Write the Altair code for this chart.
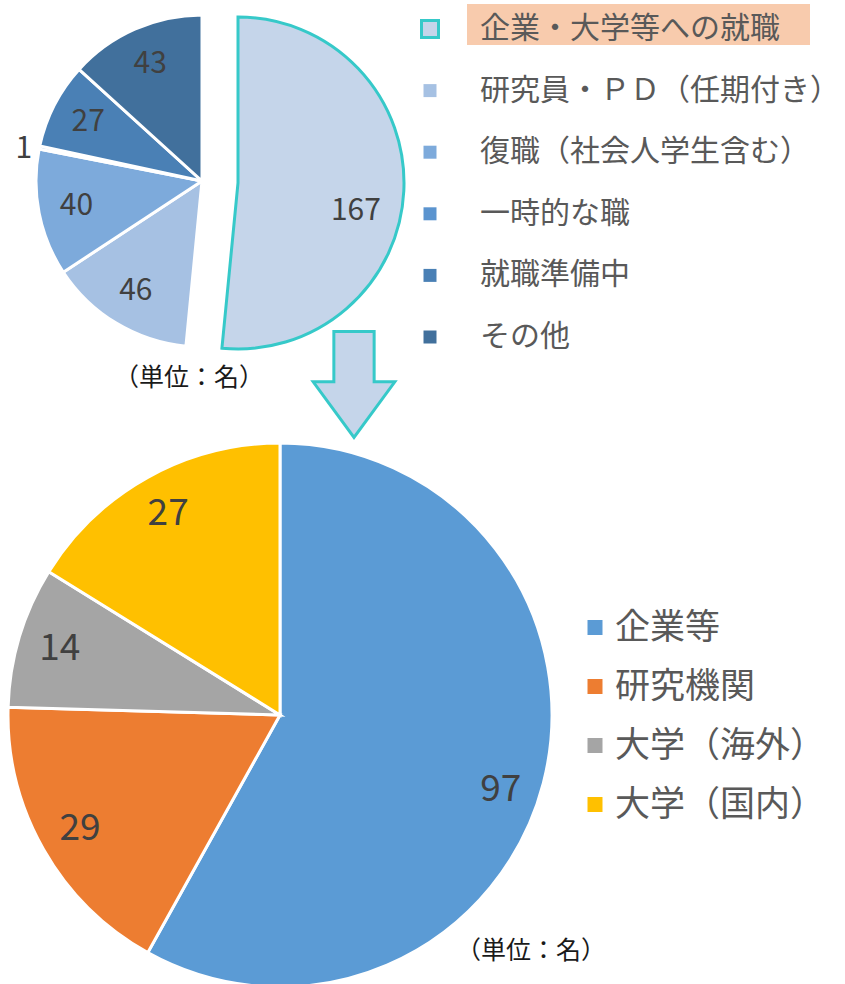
import altair as alt
import pandas as pd

FONT = "Noto Sans CJK JP"

# ---- data ----
top_cats = ["企業・大学等への就職", "研究員・ＰＤ（任期付き）", "復職（社会人学生含む）",
            "一時的な職", "就職準備中", "その他"]
top_vals = [167, 46, 40, 1, 27, 43]
top_colors = ["#C5D5EA", "#A6C1E3", "#7DAADB", "#5B94CF", "#4A80B5", "#41709C"]

bot_cats = ["企業等", "研究機関", "大学（海外）", "大学（国内）"]
bot_vals = [97, 29, 14, 27]
bot_colors = ["#5B9BD5", "#ED7D31", "#A5A5A5", "#FFC000"]

unit_label = "（単位：名）"

top_df = pd.DataFrame({"cat": top_cats, "v": top_vals, "i": list(range(len(top_cats)))})
bot_df = pd.DataFrame({"cat": bot_cats, "v": bot_vals, "i": list(range(len(bot_cats)))})
one_df = pd.DataFrame({"t": [unit_label]})

TEAL = "#36C9C9"
LABEL = "#404040"
LEGTXT = "#595959"

# ---- top pie ----
top_base = alt.Chart(top_df).encode(
    theta=alt.Theta("v:Q", stack=True),
    order=alt.Order("i:Q"),
)
top_color = alt.Color("cat:N", scale=alt.Scale(domain=top_cats, range=top_colors), legend=None)

top_rest = top_base.mark_arc(radius=166, stroke="white", strokeWidth=3).encode(
    color=top_color,
    x=alt.value(202), y=alt.value(181),
    opacity=alt.condition("datum.i == 0", alt.value(0), alt.value(1)),
)
top_expl = top_base.mark_arc(radius=166, stroke=TEAL, strokeWidth=3).encode(
    color=top_color,
    x=alt.value(238), y=alt.value(183),
    opacity=alt.condition("datum.i == 0", alt.value(1), alt.value(0)),
)
top_lab = top_base.mark_text(radius=128, font=FONT, fontSize=30).encode(
    text="v:Q", color=alt.value(LABEL),
    x=alt.value(202), y=alt.value(181),
    opacity=alt.condition("datum.i == 0 || datum.i == 3", alt.value(0), alt.value(1)),
)
top_lab_one = top_base.mark_text(radius=182, dy=5, font=FONT, fontSize=30).encode(
    text="v:Q", color=alt.value(LABEL),
    x=alt.value(202), y=alt.value(181),
    opacity=alt.condition("datum.i == 3", alt.value(1), alt.value(0)),
)
top_lab_big = top_base.mark_text(radius=118, dy=22, font=FONT, fontSize=30).encode(
    text="v:Q", color=alt.value(LABEL),
    x=alt.value(238), y=alt.value(183),
    opacity=alt.condition("datum.i == 0", alt.value(1), alt.value(0)),
)

# ---- top legend ----
top_y = alt.Y("cat:N", scale=alt.Scale(type="point", domain=top_cats, range=[29, 337], padding=0), axis=None)
highlight = alt.Chart(one_df).mark_rect(color="#F8CBAD").encode(
    x=alt.value(467), x2=alt.value(810), y=alt.value(4), y2=alt.value(45)
)
top_leg_sq = alt.Chart(top_df).mark_square(size=169, filled=True).encode(
    x=alt.value(430), y=top_y, color=top_color,
    opacity=alt.condition("datum.i == 0", alt.value(0), alt.value(1)),
)
top_leg_sq0 = alt.Chart(top_df).mark_square(size=289, filled=True, stroke=TEAL, strokeWidth=3).encode(
    x=alt.value(430), y=top_y, color=top_color,
    opacity=alt.condition("datum.i == 0", alt.value(1), alt.value(0)),
)
top_leg_txt = alt.Chart(top_df).mark_text(align="left", baseline="middle", font=FONT,
                                          fontSize=30, color=LEGTXT).encode(
    x=alt.value(480), y=top_y, text="cat:N",
)

unit_top = alt.Chart(one_df).mark_text(font=FONT, fontSize=25, color="#1A1A1A").encode(
    text="t:N", x=alt.value(189), y=alt.value(378)
)

# ---- arrow ----
arrow_path = "M -0.38 -1 L 0.38 -1 L 0.38 -0.05 L 0.77 -0.05 L 0 1 L -0.77 -0.05 L -0.38 -0.05 Z"
arrow = alt.Chart(one_df).mark_point(shape=arrow_path, size=106 * 106, filled=True,
                                     fill="#C5D5EA", stroke=TEAL, strokeWidth=3, opacity=1).encode(
    x=alt.value(354), y=alt.value(384.5)
)

# ---- bottom pie ----
bot_base = alt.Chart(bot_df).encode(
    theta=alt.Theta("v:Q", stack=True),
    order=alt.Order("i:Q"),
)
bot_color = alt.Color("cat:N", scale=alt.Scale(domain=bot_cats, range=bot_colors), legend=None)
bot_arc = bot_base.mark_arc(radius=272, stroke="white", strokeWidth=3).encode(
    color=bot_color, x=alt.value(280), y=alt.value(715)
)
bot_lab = bot_base.mark_text(radius=230, font=FONT, fontSize=37).encode(
    text="v:Q", color=alt.value(LABEL), x=alt.value(280), y=alt.value(715),
    opacity=alt.condition("datum.i == 0", alt.value(0), alt.value(1)),
)
bot_lab0 = bot_base.mark_text(radius=228, dy=18, font=FONT, fontSize=37).encode(
    text="v:Q", color=alt.value(LABEL), x=alt.value(280), y=alt.value(715),
    opacity=alt.condition("datum.i == 0", alt.value(1), alt.value(0)),
)

# ---- bottom legend ----
bot_y = alt.Y("cat:N", scale=alt.Scale(type="point", domain=bot_cats, range=[627.5, 804.5], padding=0), axis=None)
bot_leg_sq = alt.Chart(bot_df).mark_square(size=225, filled=True, opacity=1).encode(
    x=alt.value(595), y=bot_y, color=bot_color
)
bot_leg_txt = alt.Chart(bot_df).mark_text(align="left", baseline="middle", font=FONT,
                                          fontSize=35, color=LEGTXT).encode(
    x=alt.value(615), y=bot_y, text="cat:N"
)
unit_bot = alt.Chart(one_df).mark_text(font=FONT, fontSize=25, color="#1A1A1A").encode(
    text="t:N", x=alt.value(531), y=alt.value(951)
)

chart = alt.layer(
    top_rest, top_expl, top_lab, top_lab_one, top_lab_big,
    highlight, top_leg_sq, top_leg_sq0, top_leg_txt, unit_top,
    arrow,
    bot_arc, bot_lab, bot_lab0, bot_leg_sq, bot_leg_txt, unit_bot,
).resolve_scale(
    theta="independent", color="independent", y="independent"
).properties(
    width=845, height=984, padding=0, autosize="none", background="white"
).configure_view(stroke=None)

chart.save("out.html", embed_options={"renderer": "svg", "actions": False})
